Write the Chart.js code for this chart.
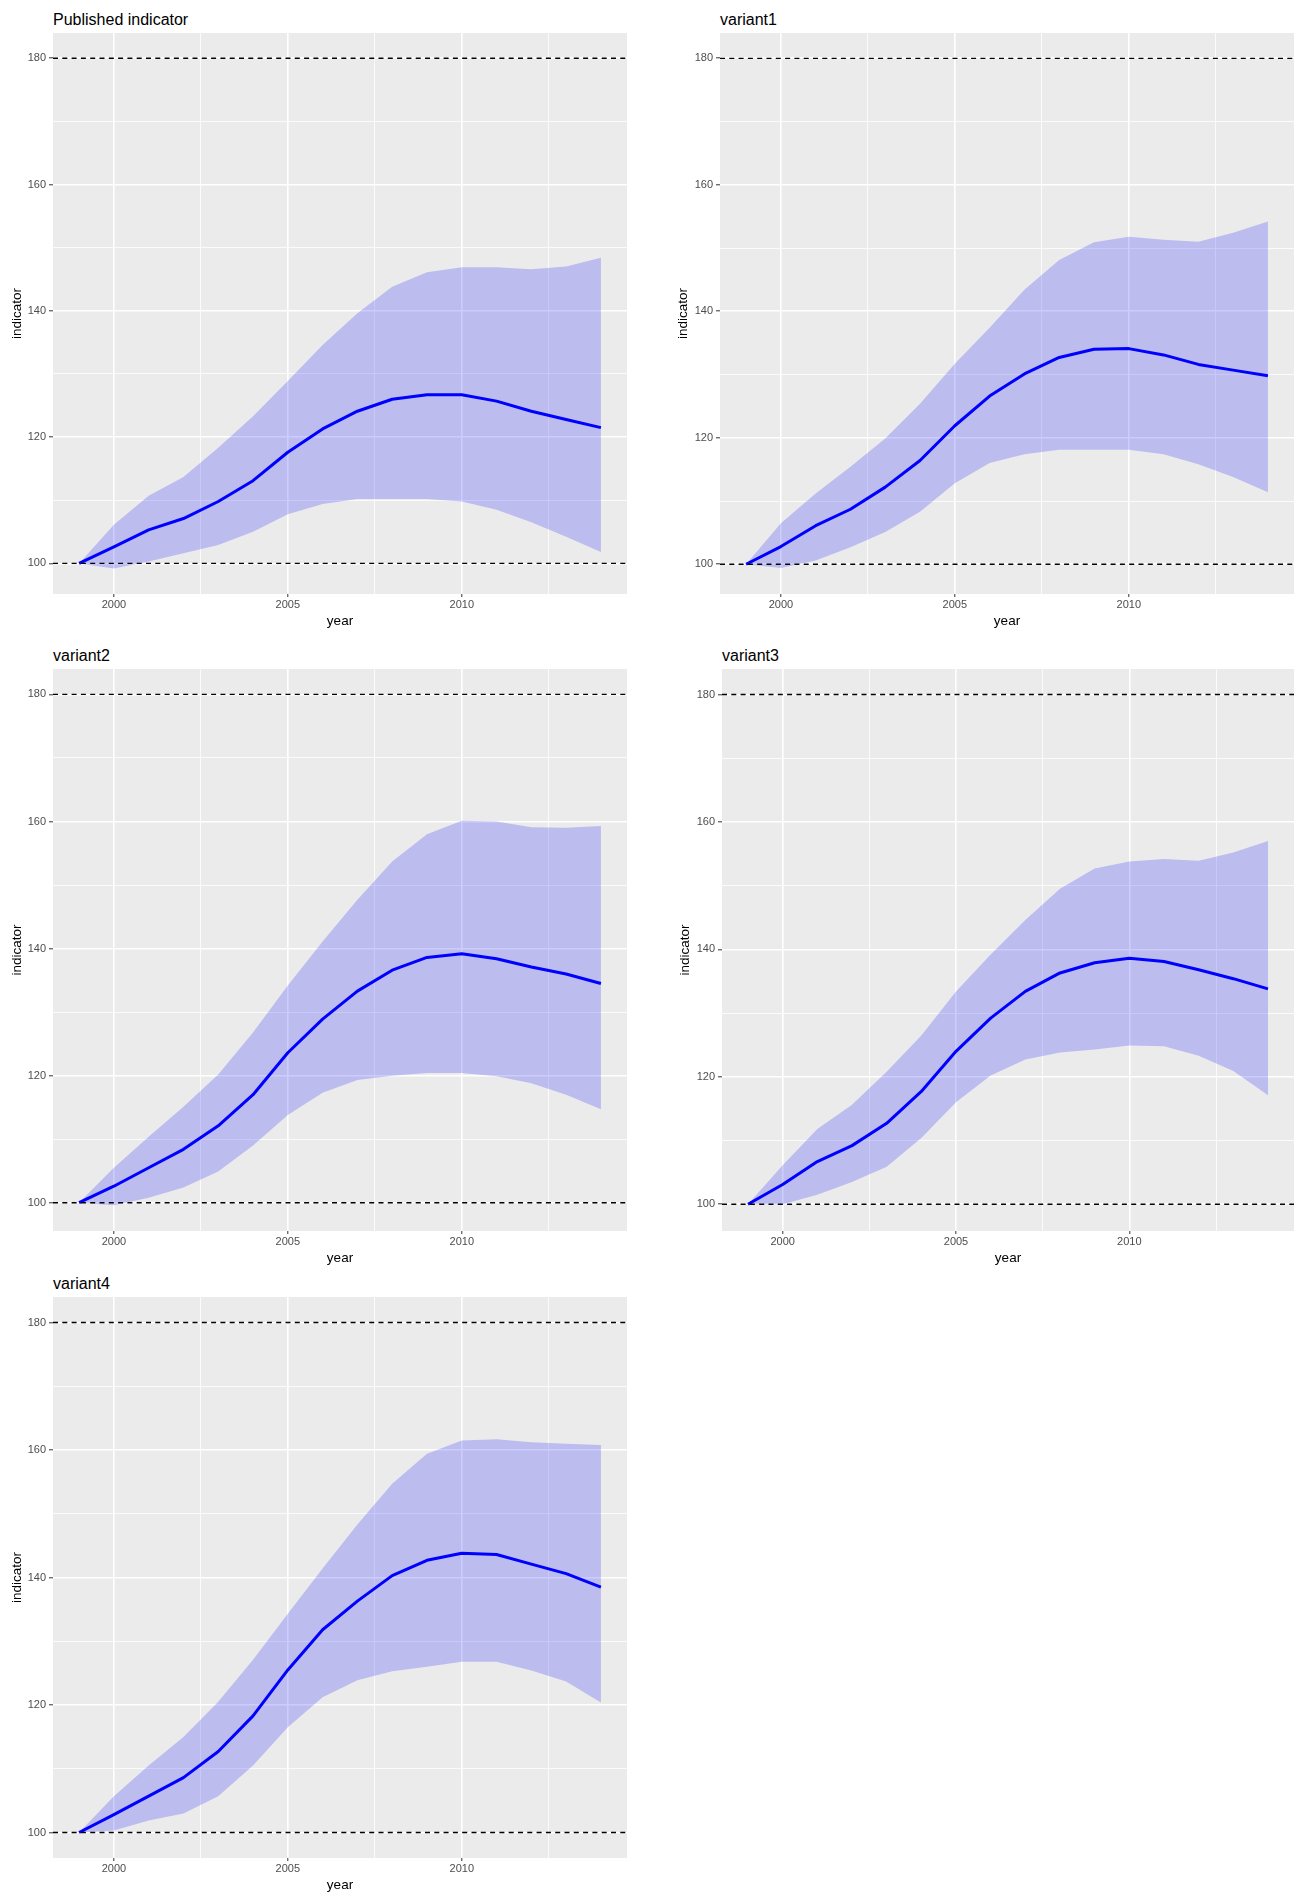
<!DOCTYPE html>
<html>
<head>
<meta charset="utf-8">
<script src="https://cdn.jsdelivr.net/npm/chart.js@4.4.1/dist/chart.umd.min.js"></script>
<style>
  body { margin: 0; background: #fff; }
  #page { position: relative; width: 1294px; height: 1894px; overflow: hidden; font-family: 'Liberation Sans', Arial, sans-serif; }
  .ptitle { position: absolute; font-size: 16px; line-height: 16px; color: #000; white-space: nowrap; }
  canvas { position: absolute; }
</style>
</head>
<body>
<div id="page"></div>
<script>
// data
const years = [1999, 2000, 2001, 2002, 2003, 2004, 2005, 2006, 2007, 2008, 2009, 2010, 2011, 2012, 2013, 2014];
const panelTitles = ['Published indicator', 'variant1', 'variant2', 'variant3', 'variant4'];

const meanPublished  = [100, 102.6, 105.3, 107.1, 109.8, 113.1, 117.6, 121.3, 124.1, 126.0, 126.7, 126.7, 125.7, 124.1, 122.8, 121.5];
const upperPublished = [100, 106.1, 110.7, 113.7, 118.3, 123.3, 128.9, 134.6, 139.6, 143.8, 146.1, 146.9, 146.9, 146.6, 147.0, 148.4];
const lowerPublished = [100, 99.2, 100.3, 101.6, 102.9, 105.0, 107.8, 109.4, 110.2, 110.2, 110.2, 109.8, 108.5, 106.5, 104.2, 101.8];

const meanVariant1  = [100, 102.8, 106.1, 108.7, 112.2, 116.4, 121.9, 126.6, 130.1, 132.7, 134.0, 134.1, 133.1, 131.6, 130.7, 129.8];
const upperVariant1 = [100, 106.5, 111.2, 115.4, 119.9, 125.4, 131.7, 137.4, 143.4, 148.1, 150.9, 151.8, 151.3, 151.0, 152.4, 154.2];
const lowerVariant1 = [100, 99.4, 100.6, 102.7, 105.1, 108.3, 112.8, 116.0, 117.4, 118.1, 118.1, 118.1, 117.4, 115.8, 113.8, 111.4];

const meanVariant2  = [100, 102.6, 105.5, 108.4, 112.1, 117.0, 123.6, 128.9, 133.3, 136.6, 138.6, 139.2, 138.4, 137.1, 136.0, 134.5];
const upperVariant2 = [100, 105.5, 110.4, 115.1, 120.2, 126.8, 134.2, 141.1, 147.7, 153.7, 158.0, 160.1, 160.0, 159.1, 159.0, 159.3];
const lowerVariant2 = [100, 99.6, 100.8, 102.4, 104.9, 109.0, 113.8, 117.3, 119.3, 120.0, 120.4, 120.4, 119.9, 118.8, 117.0, 114.7];

const meanVariant3  = [100, 103.1, 106.7, 109.2, 112.7, 117.7, 124.0, 129.2, 133.4, 136.3, 137.9, 138.6, 138.1, 136.8, 135.4, 133.8];
const upperVariant3 = [100, 106.1, 111.8, 115.6, 120.8, 126.5, 133.4, 139.2, 144.6, 149.5, 152.7, 153.8, 154.2, 153.9, 155.2, 157.0];
const lowerVariant3 = [100, 100.0, 101.5, 103.5, 105.9, 110.4, 116.0, 120.2, 122.7, 123.8, 124.3, 124.9, 124.8, 123.3, 120.9, 117.1];

const meanVariant4  = [100, 102.8, 105.7, 108.6, 112.7, 118.3, 125.5, 131.8, 136.3, 140.3, 142.7, 143.8, 143.6, 142.1, 140.6, 138.5];
const upperVariant4 = [100, 105.7, 110.5, 115.0, 120.5, 127.1, 134.3, 141.4, 148.3, 154.7, 159.4, 161.5, 161.7, 161.2, 161.0, 160.8];
const lowerVariant4 = [100, 100.3, 101.9, 103.0, 105.7, 110.5, 116.5, 121.2, 123.9, 125.3, 126.0, 126.8, 126.8, 125.4, 123.7, 120.4];

const refLines = [100, 180];
const xTicks = [2000, 2002.5, 2005, 2007.5, 2010, 2012.5];
const xLabels = [2000, 2005, 2010];
const yTicks = [100, 110, 120, 130, 140, 150, 160, 170, 180];
const yLabels = [100, 120, 140, 160, 180];

const means = [meanPublished, meanVariant1, meanVariant2, meanVariant3, meanVariant4];
const uppers = [upperPublished, upperVariant1, upperVariant2, upperVariant3, upperVariant4];
const lowers = [lowerPublished, lowerVariant1, lowerVariant2, lowerVariant3, lowerVariant4];

// panel layout: column start and plot box [left, top, right, bottom]
const layout = [
  { col: 0,   box: [53, 33, 627, 594],    yMin: 95.15 },
  { col: 666, box: [720, 33, 1294, 594],  yMin: 95.3 },
  { col: 0,   box: [53, 669, 627, 1231],  yMin: 95.55 },
  { col: 668, box: [722, 669, 1294, 1231], yMin: 95.8 },
  { col: 0,   box: [53, 1297, 627, 1858], yMin: 96.0 }
];
const X_AXIS_H = 36;

Chart.defaults.font.family = "'Liberation Sans', Arial, sans-serif";
Chart.defaults.animation = false;

const panelBg = {
  id: 'panelBg',
  beforeDraw(chart) {
    const { ctx, chartArea: a } = chart;
    ctx.save();
    ctx.fillStyle = '#EBEBEB';
    ctx.fillRect(a.left, a.top, a.width, a.height);
    ctx.restore();
  }
};

const refLinePlugin = {
  id: 'refLines',
  afterDatasetsDraw(chart) {
    const { ctx, chartArea: a, scales: { y } } = chart;
    ctx.save();
    ctx.beginPath();
    ctx.rect(a.left, a.top, a.width, a.height);
    ctx.clip();
    ctx.strokeStyle = '#000';
    ctx.lineWidth = 1.3;
    ctx.setLineDash([5, 4.3]);
    refLines.forEach(v => {
      const py = y.getPixelForValue(v);
      ctx.beginPath();
      ctx.moveTo(a.left, py);
      ctx.lineTo(a.right, py);
      ctx.stroke();
    });
    ctx.restore();
  }
};

const page = document.getElementById('page');

layout.forEach((p, i) => {
  const [l, t, r, b] = p.box;

  const title = document.createElement('div');
  title.className = 'ptitle';
  title.textContent = panelTitles[i];
  title.style.left = l + 'px';
  title.style.top = (t - 21) + 'px';
  page.appendChild(title);

  const canvas = document.createElement('canvas');
  canvas.width = r - p.col;
  canvas.height = (b - t) + X_AXIS_H;
  canvas.style.left = p.col + 'px';
  canvas.style.top = t + 'px';
  page.appendChild(canvas);

  const pts = arr => years.map((yr, k) => ({ x: yr, y: arr[k] }));

  new Chart(canvas, {
    type: 'line',
    data: {
      datasets: [
        { data: pts(means[i]), borderColor: '#0000FF', borderWidth: 3, pointRadius: 0, fill: false, borderJoinStyle: 'round', tension: 0 },
        { data: pts(lowers[i]), borderColor: 'rgba(0,0,0,0)', borderWidth: 0, pointRadius: 0, fill: false },
        { data: pts(uppers[i]), borderColor: 'rgba(0,0,0,0)', borderWidth: 0, pointRadius: 0, fill: 1, backgroundColor: 'rgba(0,0,255,0.2)' }
      ]
    },
    options: {
      responsive: false,
      devicePixelRatio: 1,
      layout: { padding: 0 },
      plugins: { legend: { display: false }, tooltip: { enabled: false } },
      scales: {
        x: {
          type: 'linear', min: 1998.25, max: 2014.75,
          afterBuildTicks: s => { s.ticks = xTicks.map(v => ({ value: v })); },
          afterFit: s => { s.height = X_AXIS_H; s.paddingLeft = 0; s.paddingRight = 0; },
          ticks: {
            autoSkip: false, maxRotation: 0, padding: 1, color: '#4D4D4D', font: { size: 11 },
            callback: v => xLabels.includes(v) ? String(v) : ''
          },
          grid: {
            color: '#FFFFFF',
            lineWidth: c => xLabels.includes(c.tick && c.tick.value) ? 1.6 : 0.8,
            tickLength: 3,
            tickWidth: 1,
            tickColor: c => xLabels.includes(c.tick && c.tick.value) ? '#333333' : 'rgba(0,0,0,0)'
          },
          border: { display: false },
          title: { display: true, text: 'year', color: '#000', font: { size: 13.5 }, padding: { top: 0, bottom: 1 } }
        },
        y: {
          type: 'linear', min: p.yMin, max: 184.0,
          afterBuildTicks: s => { s.ticks = yTicks.map(v => ({ value: v })); },
          afterFit: s => { s.width = l - p.col; s.paddingTop = 0; s.paddingBottom = 0; },
          ticks: {
            autoSkip: false, padding: 3, color: '#4D4D4D', font: { size: 11 },
            callback: v => yLabels.includes(v) ? String(v) : ''
          },
          grid: {
            color: '#FFFFFF',
            lineWidth: c => yLabels.includes(c.tick && c.tick.value) ? 1.6 : 0.8,
            tickLength: 4,
            tickWidth: 1,
            tickColor: c => yLabels.includes(c.tick && c.tick.value) ? '#333333' : 'rgba(0,0,0,0)'
          },
          border: { display: false },
          title: { display: true, text: 'indicator', color: '#000', font: { size: 13.5 }, padding: { top: 9, bottom: 0 } }
        }
      }
    },
    plugins: [panelBg, refLinePlugin]
  });
});
</script>
</body>
</html>
